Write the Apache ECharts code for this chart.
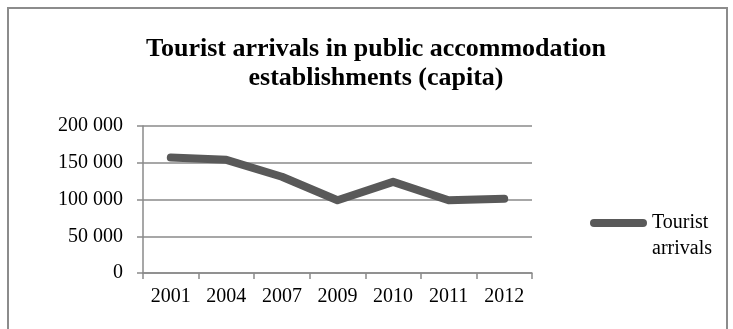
<!DOCTYPE html>
<html>
<head>
<meta charset="utf-8">
<script src="https://cdn.jsdelivr.net/npm/echarts@6/dist/echarts.min.js"></script>
<style>
  html, body { margin: 0; padding: 0; background: #fff; }
  #chart { width: 733px; height: 329px; }
</style>
</head>
<body>
<div id="chart"></div>
<script>
// Tourist arrivals by year
const years = ['2001', '2004', '2007', '2009', '2010', '2011', '2012'];
const arrivals = [157000, 154000, 131000, 99000, 124000, 99000, 101000];
const seriesName = 'Tourist arrivals';
const yTicks = [0, 50000, 100000, 150000, 200000];

const serif = '"Liberation Serif", "DejaVu Serif", serif';
const gridGray = '#8a8a8a';

function spaced(v) {
  return String(v).replace(/\B(?=(\d{3})+(?!\d))/g, ' ');
}

const chart = echarts.init(document.getElementById('chart'), null, { renderer: 'canvas' });
chart.setOption({
  backgroundColor: '#ffffff',
  animation: false,
  graphic: [{
    type: 'rect',
    shape: { x: 8, y: 8, width: 719, height: 340 },
    style: { fill: 'none', stroke: '#8c8c8c', lineWidth: 2 },
    silent: true
  }],
  title: {
    text: 'Tourist arrivals in public accommodation\nestablishments (capita)',
    left: 376,
    top: 35,
    textAlign: 'center',
    padding: 0,
    textStyle: {
      fontFamily: serif,
      fontWeight: 'bold',
      fontSize: 26,
      lineHeight: 29,
      color: '#000'
    }
  },
  legend: {
    data: [seriesName],
    left: 590,
    top: 184,
    padding: 0,
    itemWidth: 57,
    itemHeight: 8,
    icon: 'path://M4,0 L53,0 A4,4 0 0 1 53,8 L4,8 A4,4 0 0 1 4,0 Z',
    itemStyle: { color: '#595959' },
    // blank first line keeps the swatch level with "Tourist"
    formatter: () => ' \nTourist\narrivals',
    textStyle: {
      fontFamily: serif,
      fontSize: 20,
      lineHeight: 26,
      color: '#000'
    }
  },
  grid: { left: 143, right: 201, top: 126, bottom: 56, containLabel: false },
  xAxis: {
    type: 'category',
    data: years,
    boundaryGap: true,
    axisLine: { lineStyle: { color: gridGray, width: 1.5 } },
    axisTick: { show: true, length: 6, lineStyle: { color: gridGray, width: 1.5 } },
    axisLabel: { fontFamily: serif, fontSize: 20, color: '#000', margin: 14 },
    splitLine: { show: false }
  },
  yAxis: {
    type: 'value',
    min: yTicks[0],
    max: yTicks[yTicks.length - 1],
    interval: yTicks[1] - yTicks[0],
    axisLine: { show: true, lineStyle: { color: gridGray, width: 1.5 } },
    axisTick: { show: true, length: 6, lineStyle: { color: gridGray, width: 1.5 } },
    axisLabel: { fontFamily: serif, fontSize: 20, color: '#000', margin: 20, formatter: spaced },
    splitLine: { show: true, lineStyle: { color: gridGray, width: 1.5 } }
  },
  series: [{
    name: seriesName,
    type: 'line',
    data: arrivals,
    showSymbol: false,
    symbol: 'none',
    color: '#595959',
    lineStyle: { color: '#595959', width: 8, cap: 'round', join: 'round' }
  }]
});
</script>
</body>
</html>
